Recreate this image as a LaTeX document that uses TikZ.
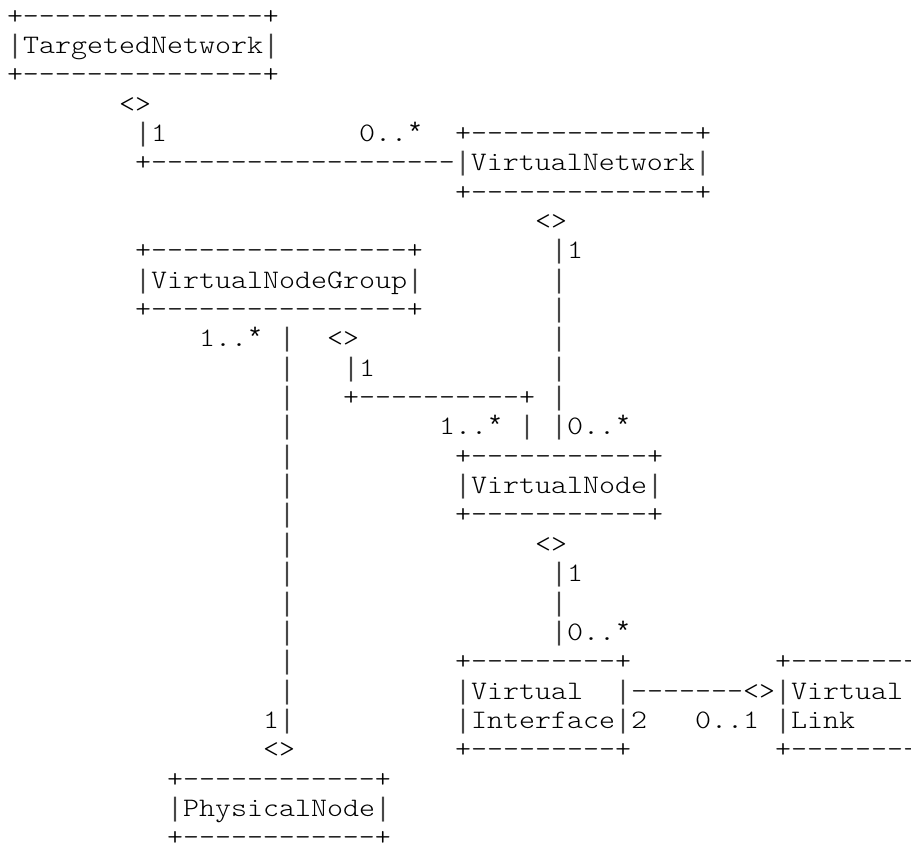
\documentclass[tikz,border=0pt]{standalone}
\usepackage{fontspec}
\setmonofont{lmmonolt10-regular.otf}[FakeStretch=1.1427]
\newfontfamily\pipefont{Liberation Mono}
\newcommand\pp{{\pipefont\color{black!72}|}}
\newcommand\st{{\pipefont*}}
\tikzset{asc/.style={anchor=base west, inner sep=0pt, outer sep=0pt, text=black,
  font=\ttfamily\fontsize{26.67}{30}\selectfont}}
\newcommand\ascseg[4]{\node[asc] (#1) at ({7+16*#2},{-24-29.35*(#3-1)}) {#4};}
\begin{document}
\begin{tikzpicture}[x=1pt,y=1pt]
\useasboundingbox (0,0) rectangle (911,-844);
\clip (0,0) rectangle (911,-844);
\fill[white] (0,0) rectangle (911,-844);
% TargetedNetwork
\ascseg{tnA}{0}{1}{+---------------+}
\ascseg{tnB}{0}{2}{\pp TargetedNetwork\pp}
\ascseg{tnC}{0}{3}{+---------------+}
\ascseg{r4a}{7}{4}{<>}
\ascseg{r5a}{8}{5}{\pp 1}
\ascseg{r5b}{22}{5}{0..\st}
\ascseg{vnA}{28}{5}{+--------------+}
\ascseg{r6a}{8}{6}{+-------------------\pp VirtualNetwork\pp}
\ascseg{vnC}{28}{7}{+--------------+}
\ascseg{r8a}{33}{8}{<>}
% VirtualNodeGroup
\ascseg{vgA}{8}{9}{+----------------+}
\ascseg{r9b}{34}{9}{\pp 1}
\ascseg{vgB}{8}{10}{\pp VirtualNodeGroup\pp}
\ascseg{r10b}{34}{10}{\pp}
\ascseg{vgC}{8}{11}{+----------------+}
\ascseg{r11b}{34}{11}{\pp}
\ascseg{r12a}{12}{12}{1..\st}
\ascseg{r12b}{17}{12}{\pp}
\ascseg{r12c}{20}{12}{<>}
\ascseg{r12d}{34}{12}{\pp}
\ascseg{r13a}{17}{13}{\pp}
\ascseg{r13b}{21}{13}{\pp 1}
\ascseg{r13c}{34}{13}{\pp}
\ascseg{r14a}{17}{14}{\pp}
\ascseg{r14b}{21}{14}{+----------+}
\ascseg{r14c}{34}{14}{\pp}
\ascseg{r15a}{17}{15}{\pp}
\ascseg{r15b}{27}{15}{1..\st}
\ascseg{r15c}{32}{15}{\pp}
\ascseg{r15d}{34}{15}{\pp 0..\st}
% VirtualNode
\ascseg{r16a}{17}{16}{\pp}
\ascseg{vdA}{28}{16}{+-----------+}
\ascseg{r17a}{17}{17}{\pp}
\ascseg{vdB}{28}{17}{\pp VirtualNode\pp}
\ascseg{r18a}{17}{18}{\pp}
\ascseg{vdC}{28}{18}{+-----------+}
\ascseg{r19a}{17}{19}{\pp}
\ascseg{r19b}{33}{19}{<>}
\ascseg{r20a}{17}{20}{\pp}
\ascseg{r20b}{34}{20}{\pp 1}
\ascseg{r21a}{17}{21}{\pp}
\ascseg{r21b}{34}{21}{\pp}
\ascseg{r22a}{17}{22}{\pp}
\ascseg{r22b}{34}{22}{\pp 0..\st}
% VirtualInterface and VirtualLink
\ascseg{r23a}{17}{23}{\pp}
\ascseg{viA}{28}{23}{+---------+}
\ascseg{vlA}{48}{23}{+---------+}
\ascseg{r24a}{17}{24}{\pp}
\ascseg{viB}{28}{24}{\pp Virtual}
\ascseg{r24c}{38}{24}{\pp-------<>\pp Virtual}
\ascseg{vlB}{56.1}{24}{\pp}
\ascseg{r25a}{16}{25}{1\pp}
\ascseg{viC}{28}{25}{\pp Interface\pp 2}
\ascseg{r25c}{43}{25}{0..1}
\ascseg{vlC}{48}{25}{\pp Link}
\ascseg{vlD}{56.1}{25}{\pp}
\ascseg{r26a}{16}{26}{<>}
\ascseg{viD}{28}{26}{+---------+}
\ascseg{vlE}{48}{26}{+---------+}
% PhysicalNode
\ascseg{pnA}{10}{27}{+------------+}
\ascseg{pnB}{10}{28}{\pp PhysicalNode\pp}
\ascseg{pnC}{10}{29}{+------------+}
\end{tikzpicture}
\end{document}
